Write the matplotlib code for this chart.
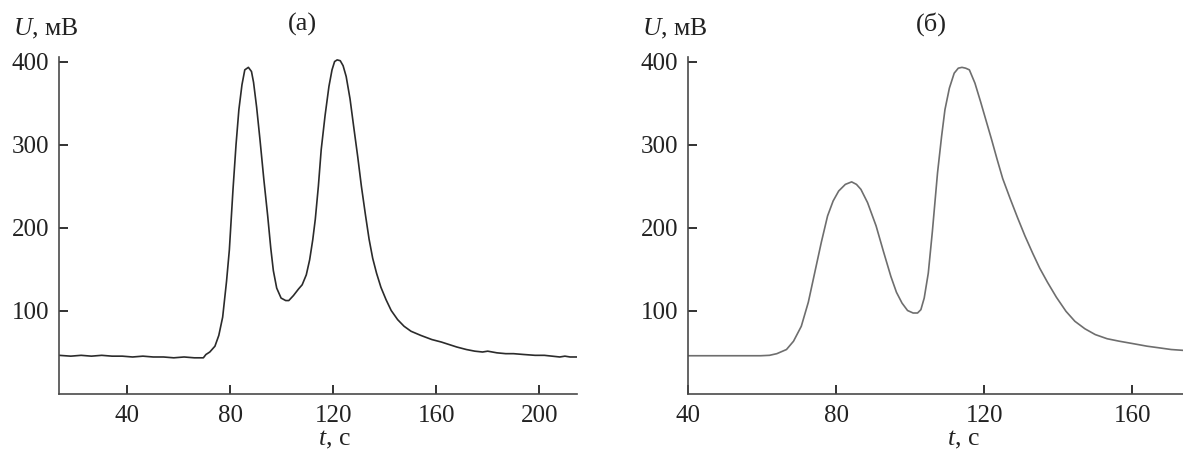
import matplotlib

matplotlib.use("Agg")
import matplotlib.pyplot as plt

# panel (a): signal U (mV) vs time t (s)
t_a = [13.4, 18, 22, 26, 30, 34, 38, 42, 46, 50, 54, 58, 62, 66, 69.5, 70.5, 72, 74, 75.5, 77,
       78.5, 79.6, 81, 82.2, 83.3, 84.5, 85.6, 87, 88.2, 89, 90.2, 91.5, 93, 94.5, 95.7, 96.7,
       98, 99.7, 101.5, 102.7, 104.5, 106.5, 107.9, 109.5, 110.8, 112, 113, 114.2, 115.3, 116.8,
       118.3, 119.5, 120.5, 121.5, 122.7, 123.8, 125, 126.5, 127.9, 129.5, 130.9, 132.5, 133.9,
       135.3, 136.8, 138.5, 140.5, 142.5, 145, 147.5, 150.2, 154, 158.3, 162, 165, 168, 171.7,
       175, 178, 180, 183.6, 187, 190, 194, 198.4, 202, 205, 208, 210, 212, 214.7]
u_a = [46, 45, 46, 45, 46, 45, 45, 44, 45, 44, 44, 43, 44, 43, 43, 47, 50, 57, 70, 92,
       135, 173, 245, 300, 342, 372, 390, 393, 388, 375, 345, 306, 258, 214, 175, 148,
       127, 115, 112, 112, 118, 126, 131, 143, 161, 185, 210, 250, 294, 335,
       370, 390, 400, 402, 401, 395, 382, 355, 322, 285, 250, 215, 186,
       163, 145, 128, 113, 100, 89, 81, 75, 70, 65, 62, 59, 56, 53,
       51, 50, 51, 49, 48, 48, 47, 46, 46, 45, 44, 45, 44, 44]

# panel (б)
t_b = [40, 45, 50, 55, 59.6, 62, 64, 66.6, 68.5, 70.6, 72.5, 74.2, 76, 77.7, 79.2, 80.7, 82.5,
       84.2, 85.5, 86.7, 88.5, 90.8, 92.8, 94.8, 96.3, 97.8, 99.3, 100.8, 102, 102.9, 103.8,
       104.9, 106, 107.4, 108.5, 109.4, 110.6, 111.9, 113, 114, 115, 116, 117.5, 119, 120.5,
       122, 123.5, 125, 127, 129, 131, 133.1, 135, 137.1, 139.5, 142.1, 144.5, 147.2, 150,
       153.2, 156.5, 160.3, 164, 167.3, 170.5, 173.7]
u_b = [45.5, 45.5, 45.5, 45.5, 45.5, 46, 48, 53, 63, 81, 110, 145, 182, 214, 232, 244, 252,
       255, 252, 246, 230, 202, 171, 141, 122, 109, 100, 97, 97, 101, 115,
       145, 195, 266, 310, 342, 368, 386, 392, 393, 392, 390, 374, 352, 329,
       306, 282, 259, 235, 212, 190, 169, 151, 134, 116, 99, 87, 78, 71,
       66, 63, 60, 57, 55, 53, 52]

x_ticks_a = [40, 80, 120, 160, 200]
x_ticks_b = [40, 80, 120, 160]
y_ticks = [100, 200, 300, 400]

plt.rcParams["font.family"] = ["Liberation Serif", "DejaVu Serif"]
plt.rcParams["mathtext.fontset"] = "custom"
plt.rcParams["mathtext.rm"] = "Liberation Serif"
plt.rcParams["mathtext.it"] = "Liberation Serif:italic"

W, H = 1183, 453
fig = plt.figure(figsize=(W / 100, H / 100), dpi=100)


def px(x, y):
    return x / W, 1 - y / H


def make_axes(x0, x1, t, u, xlim, xticks, color, title, title_x, tlabel_x, ulabel_x):
    y_top, y_bot = 57.4, 393.5
    ax = fig.add_axes([x0 / W, 1 - y_bot / H, (x1 - x0) / W, (y_bot - y_top) / H])
    ax.plot(t, u, color=color, linewidth=1.2)
    ax.set_xlim(*xlim)
    ax.set_ylim(0, 405)
    ax.set_xticks(xticks)
    ax.set_yticks(y_ticks)
    for s in ("top", "right"):
        ax.spines[s].set_visible(False)
    for s in ("left", "bottom"):
        ax.spines[s].set_color("#4a4a4a")
        ax.spines[s].set_linewidth(1.2)
    ax.tick_params(direction="in", length=6.5, width=1.3, color="#222222",
                   labelsize=18, labelcolor="#222222")
    ax.tick_params(axis="y", pad=7)
    ax.tick_params(axis="x", pad=8)
    fig.text(*px(title_x, 24), title, ha="center", va="center", fontsize=19, color="#222222")
    fig.text(*px(tlabel_x, 440), "$t$, с", ha="center", va="center", fontsize=18.5, color="#222222")
    fig.text(*px(ulabel_x, 29), "$U$, мВ", ha="left", va="center", fontsize=18.5, color="#222222")
    return ax


make_axes(59, 577, t_a, u_a, (13.4, 214.7), x_ticks_a, "#2b2b2b", "(a)", 302, 334, 13)
make_axes(688, 1183, t_b, u_b, (40, 173.7), x_ticks_b, "#6e6e6e", "(б)", 931, 963, 642)

fig.savefig("out.png", dpi=100)
